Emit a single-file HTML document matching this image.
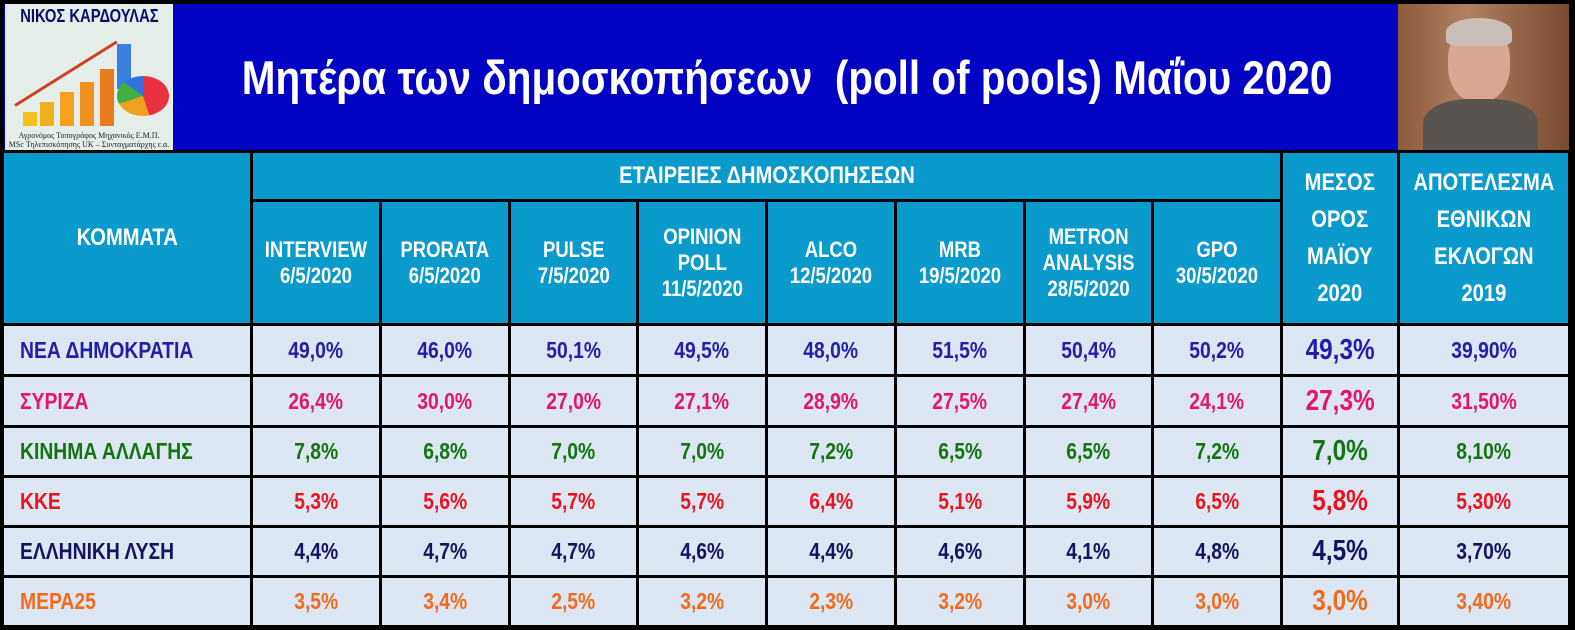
<!DOCTYPE html>
<html><head><meta charset="utf-8"><style>
*{margin:0;padding:0;box-sizing:border-box}
body{width:1575px;height:630px;background:#000;position:relative;overflow:hidden;font-family:"Liberation Sans",sans-serif;font-weight:bold}
.hdr{position:absolute;left:4px;top:4px;width:1565px;height:146px;background:#0303c4}
.logo{position:absolute;left:5px;top:4px;width:168px;height:146px;background:#e6eeea;overflow:hidden}
.photo{position:absolute;left:1398px;top:4px;width:171px;height:146px;background:linear-gradient(90deg,#8a5a3a,#b08060 40%,#7a4a30);overflow:hidden}
.title{position:absolute;left:0;top:48px;width:1575px;text-align:center;color:#fff;font-size:47px;line-height:60px;white-space:nowrap}
.title span{display:inline-block;transform:scaleX(.86);transform-origin:center}
.grid{position:absolute;left:4px;top:153px;display:grid;grid-template-columns:246px 126px 126px 125px 126px 126px 126px 125px 126px 114px 168px;grid-template-rows:46px 121px 48px 48px 47px 47px 47px 47px;gap:3px}
.grid div{display:flex;align-items:center;justify-content:center;text-align:center;white-space:nowrap}
.grid div span{display:inline-block;transform:scaleX(.84)}
.h{background:#0a9acb;color:#fff;font-size:22px;line-height:26px}
.d{background:#dde7f3;font-size:23px}
.big{font-size:29px}
.p{justify-content:flex-start!important;padding-left:16px;font-size:23px}
.p span{transform-origin:left}
.c1{color:#1f1fa8}.c2{color:#e4156a}.c3{color:#127512}.c4{color:#ea1420}.c5{color:#131560}.c6{color:#f26b1d}
</style></head><body>
<div class="hdr"></div>
<div class="logo">
<div style="position:absolute;top:2px;left:-20px;width:208px;text-align:center;font-size:18px;color:#0b0b6a;white-space:nowrap"><span style="display:inline-block;transform:scaleX(.82)">ΝΙΚΟΣ ΚΑΡΔΟΥΛΑΣ</span></div>
<div style="position:absolute;left:18px;top:108px;width:14px;height:14px;background:#f5c020"></div>
<div style="position:absolute;left:35px;top:98px;width:14px;height:24px;background:#f0b020"></div>
<div style="position:absolute;left:55px;top:88px;width:14px;height:34px;background:#f4a020"></div>
<div style="position:absolute;left:75px;top:78px;width:14px;height:44px;background:#f09020"></div>
<div style="position:absolute;left:95px;top:65px;width:14px;height:57px;background:#e87a20"></div>
<div style="position:absolute;left:112px;top:40px;width:14px;height:45px;background:#3a80e0"></div>
<div style="position:absolute;left:112px;top:72px;width:52px;height:40px;border-radius:50%;background:conic-gradient(#e83040 0 45%,#f0a020 45% 70%,#40b040 70% 85%,#3070e0 85%)"></div>
<div style="position:absolute;left:10px;top:100px;width:120px;height:3px;background:#d04020;transform:rotate(-32deg);transform-origin:left"></div>
<div style="position:absolute;top:127px;left:0;width:168px;text-align:center;font:8px 'Liberation Serif',serif;color:#123;line-height:9px">Αγρονόμος Τοπογράφος Μηχανικός Ε.Μ.Π.<br>MSc Τηλεπισκόπησης UK – Συνταγματάρχης ε.α.</div>
</div>
<div class="photo">
<div style="position:absolute;left:50px;top:20px;width:62px;height:78px;border-radius:45%;background:#d9a890"></div>
<div style="position:absolute;left:48px;top:14px;width:66px;height:28px;border-radius:50% 50% 20% 20%;background:#c8c0b8"></div>
<div style="position:absolute;left:25px;top:95px;width:115px;height:60px;border-radius:40% 40% 0 0;background:#5a5450"></div>
</div>
<div class="title"><span>Μητέρα των δημοσκοπήσεων &nbsp;(poll of pools) Μαΐου 2020</span></div>
<div class="grid">
<div class="h" style="grid-row:1/3;font-size:24px"><span>ΚΟΜΜΑΤΑ</span></div>
<div class="h" style="grid-column:2/10;font-size:24px"><span>ΕΤΑΙΡΕΙΕΣ ΔΗΜΟΣΚΟΠΗΣΕΩΝ</span></div>
<div class="h" style="grid-row:1/3;grid-column:10;font-size:24px;line-height:37px"><span>ΜΕΣΟΣ<br>ΟΡΟΣ<br>ΜΑΪΟΥ<br>2020</span></div>
<div class="h" style="grid-row:1/3;grid-column:11;font-size:24px;line-height:37px"><span>ΑΠΟΤΕΛΕΣΜΑ<br>ΕΘΝΙΚΩΝ<br>ΕΚΛΟΓΩΝ<br>2019</span></div>
<div class="h"><span>INTERVIEW<br>6/5/2020</span></div><div class="h"><span>PRORATA<br>6/5/2020</span></div><div class="h"><span>PULSE<br>7/5/2020</span></div><div class="h"><span>OPINION<br>POLL<br>11/5/2020</span></div><div class="h"><span>ALCO<br>12/5/2020</span></div><div class="h"><span>MRB<br>19/5/2020</span></div><div class="h"><span>METRON<br>ANALYSIS<br>28/5/2020</span></div><div class="h"><span>GPO<br>30/5/2020</span></div>

<div class="d p c1"><span>ΝΕΑ ΔΗΜΟΚΡΑΤΙΑ</span></div><div class="d c1"><span>49,0%</span></div><div class="d c1"><span>46,0%</span></div><div class="d c1"><span>50,1%</span></div><div class="d c1"><span>49,5%</span></div><div class="d c1"><span>48,0%</span></div><div class="d c1"><span>51,5%</span></div><div class="d c1"><span>50,4%</span></div><div class="d c1"><span>50,2%</span></div><div class="d c1 big"><span>49,3%</span></div><div class="d c1"><span>39,90%</span></div>
<div class="d p c2"><span>ΣΥΡΙΖΑ</span></div><div class="d c2"><span>26,4%</span></div><div class="d c2"><span>30,0%</span></div><div class="d c2"><span>27,0%</span></div><div class="d c2"><span>27,1%</span></div><div class="d c2"><span>28,9%</span></div><div class="d c2"><span>27,5%</span></div><div class="d c2"><span>27,4%</span></div><div class="d c2"><span>24,1%</span></div><div class="d c2 big"><span>27,3%</span></div><div class="d c2"><span>31,50%</span></div>
<div class="d p c3"><span>ΚΙΝΗΜΑ ΑΛΛΑΓΗΣ</span></div><div class="d c3"><span>7,8%</span></div><div class="d c3"><span>6,8%</span></div><div class="d c3"><span>7,0%</span></div><div class="d c3"><span>7,0%</span></div><div class="d c3"><span>7,2%</span></div><div class="d c3"><span>6,5%</span></div><div class="d c3"><span>6,5%</span></div><div class="d c3"><span>7,2%</span></div><div class="d c3 big"><span>7,0%</span></div><div class="d c3"><span>8,10%</span></div>
<div class="d p c4"><span>ΚΚΕ</span></div><div class="d c4"><span>5,3%</span></div><div class="d c4"><span>5,6%</span></div><div class="d c4"><span>5,7%</span></div><div class="d c4"><span>5,7%</span></div><div class="d c4"><span>6,4%</span></div><div class="d c4"><span>5,1%</span></div><div class="d c4"><span>5,9%</span></div><div class="d c4"><span>6,5%</span></div><div class="d c4 big"><span>5,8%</span></div><div class="d c4"><span>5,30%</span></div>
<div class="d p c5"><span>ΕΛΛΗΝΙΚΗ ΛΥΣΗ</span></div><div class="d c5"><span>4,4%</span></div><div class="d c5"><span>4,7%</span></div><div class="d c5"><span>4,7%</span></div><div class="d c5"><span>4,6%</span></div><div class="d c5"><span>4,4%</span></div><div class="d c5"><span>4,6%</span></div><div class="d c5"><span>4,1%</span></div><div class="d c5"><span>4,8%</span></div><div class="d c5 big"><span>4,5%</span></div><div class="d c5"><span>3,70%</span></div>
<div class="d p c6"><span>ΜΕΡΑ25</span></div><div class="d c6"><span>3,5%</span></div><div class="d c6"><span>3,4%</span></div><div class="d c6"><span>2,5%</span></div><div class="d c6"><span>3,2%</span></div><div class="d c6"><span>2,3%</span></div><div class="d c6"><span>3,2%</span></div><div class="d c6"><span>3,0%</span></div><div class="d c6"><span>3,0%</span></div><div class="d c6 big"><span>3,0%</span></div><div class="d c6"><span>3,40%</span></div>
</div>
</body></html>
